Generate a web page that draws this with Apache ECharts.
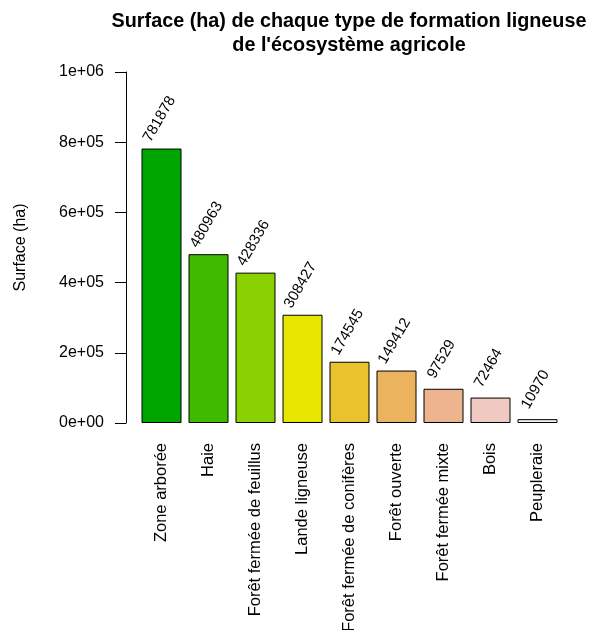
<!DOCTYPE html>
<html>
<head>
<meta charset="utf-8">
<script src="https://cdn.jsdelivr.net/npm/echarts@6/dist/echarts.min.js"></script>
<style>
html,body{margin:0;padding:0;background:#fff;}
#chart{width:597px;height:630px;}
</style>
</head>
<body>
<div id="chart"></div>
<script>
const categories = ['Zone arborée','Haie','Forêt fermée de feuillus','Lande ligneuse','Forêt fermée de conifères','Forêt ouverte','Forêt fermée mixte','Bois','Peupleraie'];
const values = [781878, 480963, 428336, 308427, 174545, 149412, 97529, 72464, 10970];
const barColors = ['#00A600','#3EBB00','#8BD000','#E6E600','#E8C32E','#EBB35E','#EDB48E','#F0C9C0','#F2F2F2'];
const yTickLabels = ['0e+00','2e+05','4e+05','6e+05','8e+05','1e+06'];
const yMax = 1000000;
const yStep = 200000;

const FONT = '"Liberation Sans", Arial, sans-serif';
const chart = echarts.init(document.getElementById('chart'));
chart.setOption({
  animation: false,
  backgroundColor: '#fff',
  title: {
    text: "Surface (ha) de chaque type de formation ligneuse\nde l'écosystème agricole",
    left: 344,
    top: 5,
    textAlign: 'center',
    textStyle: {fontFamily: FONT, fontSize: 19.8, fontWeight: 'bold', color: '#000', lineHeight: 24}
  },
  grid: {left: 138, right: 36, top: 72, bottom: 207, containLabel: false, outerBoundsMode: 'none'},
  xAxis: {
    type: 'category',
    data: categories,
    axisLine: {show: false},
    axisTick: {show: false},
    axisLabel: {rotate: 90, margin: 20, interval: 0, fontFamily: FONT, fontSize: 16.5, color: '#000'}
  },
  yAxis: {
    type: 'value',
    min: 0, max: yMax, interval: yStep,
    offset: 12,
    name: 'Surface (ha)',
    nameLocation: 'middle',
    nameRotate: 90,
    nameGap: 97,
    nameTextStyle: {fontFamily: FONT, fontSize: 16, color: '#000'},
    axisLine: {show: true, lineStyle: {color: '#000', width: 1}},
    axisTick: {show: true, length: 11, lineStyle: {color: '#000', width: 1}},
    splitLine: {show: false},
    axisLabel: {
      margin: 22, fontFamily: FONT, fontSize: 16, color: '#000',
      formatter: function (v) { return yTickLabels[Math.round(v / yStep)]; }
    }
  },
  series: [{
    type: 'bar',
    data: values.map((v, i) => ({value: v, itemStyle: {color: barColors[i]}})),
    barWidth: 40,
    itemStyle: {borderColor: '#000', borderWidth: 1},
    label: {
      show: true,
      position: 'top',
      distance: 33,
      rotate: 60,
      align: 'center',
      verticalAlign: 'middle',
      offset: [-4, 0],
      fontFamily: FONT,
      fontSize: 15,
      color: '#000',
      formatter: function (p) { return String(p.value); }
    }
  }]
});
</script>
</body>
</html>
